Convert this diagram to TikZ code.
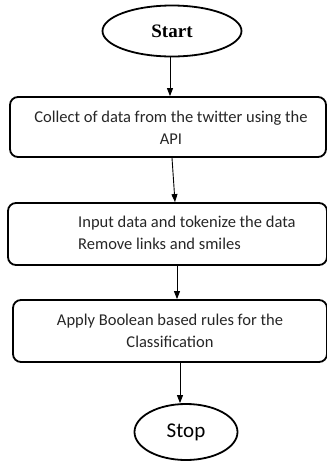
\documentclass[tikz,border=0pt]{standalone}
\usepackage{fontspec}
\setmainfont{Carlito}
\newfontfamily\serifstart{Liberation Serif}
\usetikzlibrary{shapes.geometric,arrows.meta}
\tikzset{
  procbox/.style={draw=black, line width=1.8pt, rounded corners=8pt, inner sep=0pt},
  termnode/.style={draw=black, line width=1.8pt, ellipse, inner sep=0pt},
  boxtext/.style={font=\fontsize{16.5}{21.5}\selectfont, inner sep=0pt, text=black!85},
  arr/.style={line width=0.9pt, -{Triangle[length=8pt,width=6pt]}}
}
\begin{document}
\begin{tikzpicture}[x=1pt,y=-1pt]
\useasboundingbox (0,0) rectangle (327,464);
\node[termnode, minimum width=139pt, minimum height=51pt, font=\serifstart\bfseries\fontsize{19}{22}\selectfont] (start) at (172,31) {Start};
\node[procbox, minimum width=316pt, minimum height=60pt] (b1) at (168,127) {};
\node[boxtext, align=center] (t1) at (171,128) {Collect of data from the twitter using the\\API};
\node[procbox, minimum width=319pt, minimum height=62pt] (b2) at (167.5,234) {};
\node[boxtext, align=left, anchor=west] (t2) at (78,233) {Input data and tokenize the data\\Remove links and smiles};
\node[procbox, minimum width=314pt, minimum height=62pt] (b3) at (170,331) {};
\node[boxtext, align=center] (t3) at (170,331) {Apply Boolean based rules for the\\Classification};
\node[termnode, minimum width=103pt, minimum height=56pt, font=\fontsize{21}{24}\selectfont] (stop) at (186,432) {Stop};
\draw[arr] ([xshift=-2pt]start.south) -- ([xshift=2pt]b1.north);
\draw[arr] ([xshift=4pt]b1.south) -- ([xshift=7.5pt]b2.north);
\draw[arr] ([xshift=9.5pt]b2.south) -- ([xshift=7pt]b3.north);
\draw[arr] ([xshift=10pt]b3.south) -- ([xshift=-6pt]stop.north);
\end{tikzpicture}
\end{document}
